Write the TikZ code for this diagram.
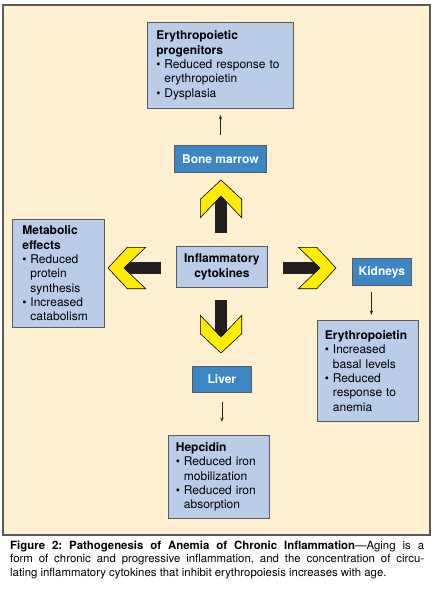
\documentclass[tikz,border=0pt]{standalone}
\usepackage{fontspec}
\setmainfont{TeX Gyre Heros}
\usetikzlibrary{arrows.meta}
\definecolor{cream}{HTML}{FFF0D2}
\definecolor{lightblue}{HTML}{B9CDE9}
\definecolor{darkblue}{HTML}{3D86C6}
\definecolor{bordergray}{HTML}{5A5A5A}
\definecolor{chevyellow}{HTML}{FFEC00}
\definecolor{shaftblack}{HTML}{231F20}
\frenchspacing
\newcommand\bitem{\textbullet\hspace{0.32em}}
\newcommand\bind{\phantom{\textbullet\hspace{0.32em}}}
\newcommand\chev[3]{%
  \begin{scope}[shift={(#1,#2)},rotate=#3]
    \fill[shaftblack] (-6,12) rectangle (6,53);
    \draw[fill=chevyellow,draw=black,line width=0.6pt,line join=miter]
      (0,0) -- (20.7,19.3) -- (20.7,37.7) -- (0,16) -- (-20.7,37.7) -- (-20.7,19.3) -- cycle;
  \end{scope}}
\tikzset{
  boxfont/.style={font=\fontsize{12}{14.3}\selectfont},
  lbox/.style={boxfont, draw=bordergray, fill=lightblue, line width=0.8pt, inner sep=0pt,
    align=left, anchor=north west},
  dbox/.style={font=\fontsize{12}{14.3}\selectfont\bfseries, draw=bordergray, fill=darkblue,
    text=white, line width=0.8pt, inner sep=0pt, align=center, anchor=north west},
  thinarrow/.style={draw=black!85, line width=0.8pt, -{Stealth[length=4.5pt,width=3.2pt]}},
}
\begin{document}
\begin{tikzpicture}[x=1pt,y=-1pt]
\useasboundingbox (0,0) rectangle (434,589);
\draw[fill=cream, draw=bordergray, line width=1.2pt] (3,5) rectangle (430,535);

% content boxes
\node[lbox, minimum width=146pt, minimum height=86pt, text width=128pt] (ep) at (147,22)
  {\textbf{Erythropoietic}\\\textbf{progenitors}\\\bitem Reduced response to\\\bind erythropoietin\\\bitem Dysplasia};
\node[dbox, minimum width=92pt, minimum height=27pt] (bm) at (174,145) {Bone marrow};
\node[lbox, align=center, font=\fontsize{12}{14.3}\selectfont\bfseries, minimum width=91pt, minimum height=41pt, text width=88pt] (cyt) at (176,246)
  {Inflammatory\\cytokines};
\node[lbox, minimum width=92pt, minimum height=108pt, text width=72pt] (met) at (12,219)
  {\textbf{Metabolic}\\\textbf{effects}\\\bitem Reduced\\\bind protein\\\bind synthesis\\\bitem Increased\\\bind catabolism};
\node[dbox, minimum width=59pt, minimum height=27pt] (kid) at (352,258) {Kidneys};
\node[lbox, minimum width=101pt, minimum height=101pt, text width=86pt] (epo) at (317,320)
  {\textbf{Erythropoietin}\\\bitem Increased\\\bind basal levels\\\bitem Reduced\\\bind response to\\\bind anemia};
\node[dbox, minimum width=59pt, minimum height=26pt] (liv) at (192,366) {Liver};
\node[lbox, minimum width=101pt, minimum height=83pt, text width=86pt] (hep) at (168,435)
  {\textbf{Hepcidin}\\\bitem Reduced iron\\\bind mobilization\\\bitem Reduced iron\\\bind absorption};

% big chevron arrows from the cytokines node
\chev{221}{180}{0}
\chev{108}{268}{90}
\chev{336}{268}{-90}
\chev{221}{353}{180}

% thin arrows
\draw[thinarrow, shorten <=10pt, shorten >=6pt] (bm.north) -- (bm.north |- ep.south);
\coordinate (kx) at ([xshift=-10.5pt]kid.south);
\draw[thinarrow, shorten <=6pt, shorten >=5pt] (kx) -- (kx |- epo.north);
\draw[thinarrow, shorten <=9pt, shorten >=13pt] (liv.south) -- (liv.south |- hep.north);

% caption
\node[anchor=north west, inner sep=0pt, text width=414pt, align=justify,
  font=\fontsize{11.4}{13.2}\selectfont] (cap) at (10,541)
  {\textbf{Figure 2: Pathogenesis of Anemia of Chronic Inflammation}---Aging is a\linebreak
   form of chronic and progressive inflammation, and the concentration of circu-\linebreak
   lating inflammatory cytokines that inhibit erythropoiesis increases with age.};
\end{tikzpicture}
\end{document}
